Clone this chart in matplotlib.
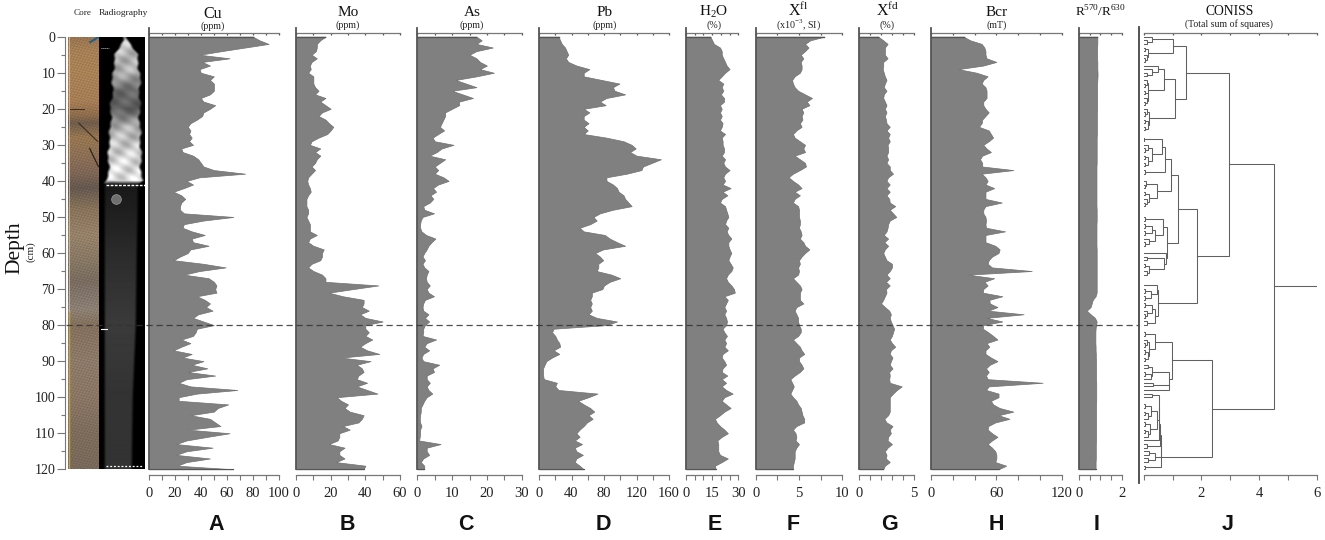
import matplotlib
matplotlib.use('Agg')
import matplotlib.pyplot as plt
from matplotlib.lines import Line2D
import numpy as np

W, H = 1325, 540
plt.rcParams['font.family'] = ['Liberation Serif', 'DejaVu Serif']

depth = np.arange(0, 121)

cu = [80,85,92,74,56,39,62,41,47,39,40,50,47,50,50,50,47,40,42,51,47,42,41,37,32,30,32,31,33,31,34,25,26,34,38,40,
      42,50,74,39,29,34,27,19,25,28,25,24,24,27,65,42,27,26,33,43,33,34,46,32,30,24,19,42,59,39,27,46,50,52,51,52,
      37,43,47,44,49,38,34,42,50,37,36,34,25,32,25,19,33,26,42,33,45,30,51,29,23,32,68,37,23,23,61,53,50,32,47,51,
      55,30,62,45,29,21,49,29,21,47,29,22,65]
mo = [17,14,12,12,11.5,9,12,9,8,8.5,7,10,10,10,11,13,11,17,14,17,20,15,13,17,19,21.5,20,18,13,9,8,14,11,14,12,11,
      9,11,9,7,6.5,7,8,8.5,7,6,6,6,7,7,6,7,8,8,8,12,8,7,10,16,15,15,14,9,7,10,15,17,17,47.5,33,19,27,39,39,38,42,
      37,40,50,40,40,42,40,44,40,37,41,48,26,43,35,38,39,36,35,41,35,41,47,23.5,26,30,28,31,39,38,36,27,31,25,25,
      24,19,28,25,25,28,23,40,39]
as_ = [17,18.5,17,21.7,17,15,17,18,20,18,22,17,11,14,17,10,13,16,12,12,10,8,8,7.5,7,6.5,7.7,6,4.4,5,10.4,7,5.6,3.5,
       8,6.5,5,6,5,7.5,9,6,4.5,5.4,3.8,4.6,3.6,1.7,2,4.8,1.5,1,0.8,0.8,1.2,2.5,5.2,4.1,3.2,2.7,2,1.5,2.2,1.5,2,3.2,
       2.7,2.5,2.7,3.6,2.7,3.2,4.8,2.2,1.7,1.5,1.7,3.2,2.2,3.4,2.2,1.7,1.7,1.5,5.4,2.7,2,3.4,1.7,1.2,1.7,6.3,4.4,
       4.8,2.7,2.7,3.6,2.7,3.2,4.3,2.7,2,1.5,1,1,0.8,0.7,0.8,1.2,0.8,0.8,0.7,0.5,6.7,2.7,2.7,3.4,1.7,1,2,2]
pb = [24,26,28,32,34,36,33,36,46,62,55,55,77,99,91,93,106,83,75,82,55,62,55,55,61,55,60,55,83,104,114,119,112,120,
      150,139,128,126,108,83,83,91,96,98,104,106,110,114,91,75,67,71,63,50,55,81,87,96,106,79,69,75,79,73,73,71,89,
      100,87,80,78,65,65,63,65,63,65,61,71,96,83,18,16,20,22,25,26,18,25,16,9,7,5,5,5,6,22,20,24,72,61,48,55,63,68,
      61,66,59,55,50,46,50,44,53,44,46,54,46,44,50,55]
h2o = [14,15,16,19.5,20.5,20.5,21.4,22.4,23.3,25,22.4,20.5,18.5,21.4,20.5,21.4,20,21.8,21.8,19.5,20.5,19.5,20.5,19.5,
       21,20.5,19.5,22.4,20.5,21,21,21.8,21.8,20.5,22.4,21.4,22.4,25,22.4,21.4,22.4,21,25.6,21,23.7,20.5,19.5,22.4,
       23,23.7,24.3,23,22.4,24.3,23.3,24.3,26,24.3,24.3,25,26,25,24.3,25.6,26.8,26,24,23,24,26,27.5,28,22,24,23,22,
       23,22,23,23.5,23,21,22,23.5,22,23,22,24,21,20.5,22,23,21,20.5,23.7,20.5,23,20.5,23,26.8,22,20.5,23,25.6,22,
       19.5,16.6,17.6,19.5,22,24,20.5,18,18.5,18.5,18.5,19.5,24,20.5,16.6,17]
xfl = [7.9,6.3,5.7,6.1,5.7,5.2,5.5,5.2,5.3,5.3,5.1,4.5,4.2,4.3,4.5,4.9,5.7,6.5,5.9,6.2,5.3,5.5,5.3,5.4,5.1,5.3,4.7,
       4.3,4.5,5.1,5.7,5.5,5.7,4.5,5.1,5.7,5.8,5.1,4.3,3.8,4.3,4.9,5.3,4.5,5.1,4.5,4.3,4.9,5,5,5,5.1,5.1,5,5.2,5.3,
       5.1,5.5,5.7,6.2,5.7,5.3,5,5.1,4.9,5,4.9,4.3,4.7,5.1,5.3,5.1,5.1,5.1,5.5,4.7,4.5,4.7,4.9,4.9,5,5.2,5.2,4.9,4.3,
       4.7,5.1,5.3,5.6,5,5,5.3,5.5,5.1,4.5,4,4.2,4.4,4.2,4,4.3,4.7,4.9,5.2,5.3,5.4,5.6,5.6,4.7,4.3,4.6,4.7,4.6,5,4.7,
       4.5,4.5,4.5,4.4,4.3,4.3]
xfd = [1.75,2.2,2.6,2.35,2.35,2.35,2.6,2.2,2.2,2.15,2.25,2.35,2.5,2.35,2.25,2.5,2.25,2.2,2.35,2.5,2.35,2.5,2.35,2.45,
       2.5,2.8,2.5,2.8,2.65,2.8,2.6,2.65,2.65,2.5,2.65,2.5,2.8,2.8,3.1,2.65,2.5,2.8,2.5,2.8,2.5,2.75,2.8,3.3,2.8,3.1,
       3.4,2.8,2.65,2.6,2.5,2.25,2.65,2.3,2.65,2.35,2.2,2.35,2.5,3,3,2.8,2.5,2.8,2.45,2.8,2.45,2.5,2.35,2.2,2,2.35,
       2.75,2.9,2.8,2.9,3.05,3.2,3.1,3,2.8,3,3.3,2.9,2.8,3.05,2.9,2.8,3.05,2.75,2.8,2.75,2.8,3.9,3.45,3.1,2.8,2.8,
       2.8,2.8,2.8,2.65,2.3,2.5,3.05,2.8,2.9,2.65,2.6,3,2.6,2.35,2.5,2.45,2.8,2.35,2.2]
bcr = [30,36,46.5,49,50,50,51,60,48,25,42,52,48,46.5,50,51,51,51,48,48,50,53,50,47,46.5,44,53,55,57,53,48,51,55,47,45,
       47,47,75.6,46.5,50,52,50,58,50,50,50,65,50,48,48,50,50.5,50,50.5,68,50,50,50,59,63,62,56,53,52,56,92.5,34,58,
       49,52,48,47.5,65.5,53.5,54,61,52.6,85,51,65.5,48,47.5,52.6,57,61,51,53.5,50,50,55,61,54,50.5,53,50.5,52,102.5,
       53,50.5,62,62,55,57,63,75.6,62,72,59,52.6,52,56,61,56,52,56,59,60,60,59,69,62]
ratio = [0.86,0.86,0.86,0.85,0.85,0.85,0.85,0.86,0.86,0.86,0.87,0.87,0.86,0.85,0.85,0.85,0.85,0.85,0.85,0.85,0.85,0.84,
         0.84,0.84,0.84,0.84,0.84,0.84,0.83,0.83,0.83,0.83,0.83,0.83,0.83,0.83,0.82,0.82,0.82,0.82,0.82,0.82,0.82,0.82,
         0.82,0.82,0.82,0.82,0.83,0.83,0.83,0.83,0.82,0.82,0.82,0.82,0.82,0.82,0.82,0.83,0.83,0.83,0.83,0.83,0.83,0.83,
         0.83,0.83,0.83,0.83,0.83,0.83,0.78,0.65,0.6,0.55,0.37,0.55,0.75,0.83,0.8,0.78,0.77,0.77,0.77,0.77,0.78,0.78,
         0.79,0.79,0.8,0.8,0.8,0.8,0.8,0.8,0.81,0.81,0.81,0.81,0.81,0.81,0.8,0.8,0.8,0.8,0.8,0.8,0.8,0.8,0.8,0.8,0.8,
         0.79,0.79,0.79,0.79,0.79,0.78,0.78,0.78]

series = [cu, mo, as_, pb, h2o, xfl, xfd, bcr, ratio]
xmax = [100, 60, 30, 160, 30, 10, 5, 120, 2]
major = [20, 20, 10, 40, 15, 5, 5, 60, 2]
minor = [10, 10, 5, 20, 5, 2.5, 1, 20, 0.5]
x0_px = [148.7, 296, 417.3, 539, 686, 755.7, 859.3, 931, 1078.7]
x1_px = [279, 400, 521.7, 669, 738.3, 842.3, 913.7, 1061.7, 1122]
titles = ['Cu', 'Mo', 'As', 'Pb', r'H$_{\mathregular{2}}$O', r'X$^{\mathregular{fl}}$', r'X$^{\mathregular{fd}}$',
          'Bcr', r'R$^{\mathregular{570}}$/R$^{\mathregular{630}}$']
units = ['(ppm)', '(ppm)', '(ppm)', '(ppm)', '(%)', r'(x10$^{\mathregular{-3}}$, SI)', '(%)', '(mT)', '']
title_x = [213, 348, 472, 605, 714, 798, 887, 997, 1100]
title_base = [18, 15.5, 15.5, 15.5, 15.5, 15.5, 15.5, 15.5, 16.5]
unit_y = [26.5, 25, 25, 25, 25, 25, 25, 25, 25]
title_size = [11.5, 11, 11, 11, 11, 11.5, 11.5, 11, 9.5]
letters = ['A', 'B', 'C', 'D', 'E', 'F', 'G', 'H', 'I', 'J']
letter_x = [216, 347, 466, 603, 715, 793, 890, 996, 1097, 1228]

# CONISS tree, (height, upper child, lower child), leaves are depths
upper1 = (1.46,
          (1.03, (.28, 0, (.1, 1, 2)), (.16, (.05, 3, 4), (.1, 5, (.05, 6, 7)))),
          (1.08,
           (.71, (.51, 8, (.3, 9, (.1, 10, 11))),
            (.16, (.1, 12, (.05, 13, 14)), (.14, (.05, 15, 16), (.1, 17, (.03, 18, 19))))),
           (.2, (.1, 20, (.05, 21, 22)), (.14, (.05, 23, 24), (.05, 25, 26)))))
upper2a = (.93,
           (.74, (.62, (.02, 28, 29),
                  (.28, (.16, 30, (.05, 31, 32)), (.14, (.05, 33, 34), (.05, 35, 36)))),
            (.03, 37, 38)),
           (.47, (.08, 40, (.03, 41, 42)), (.18, (.05, 43, 44), (.1, 45, (.06, 46, 47)))))
upper2b = (.8,
           (.68, (.05, 50, 51),
            (.4, (.3, (.05, 52, 53), (.05, 54, 55)), (.2, 56, (.05, 57, 58)))),
           (.78, 60, (.7, (.1, 61, 62), (.2, (.05, 63, 64), (.1, 65, 66)))))
upper3 = (.49,
          (.45, 69, (.25, (.05, 70, 71), (.05, 72, 73))),
          (.38, (.3, (.05, 74, 75), (.1, 76, (.03, 77, 78))), (.1, 79, 80)))
lower1 = (.97,
          (.4, (.05, 82, 83),
           (.2, (.1, 84, (.05, 85, 86)), (.15, (.05, 87, 88), (.05, 89, 90)))),
          (.89, (.28, (.15, 91, 92), (.25, (.05, 93, 94), 95)), (.87, (.33, 96, 97), 98)))
chain = (.52, (.3, 99, 100),
         (.45, (.25, (.05, 102, 103), (.15, (.05, 104, 105), 106)),
          (.22, (.05, 107, 108), (.15, (.05, 109, 110), 111))))
lower2 = (.61,
          (.59, (.57, (.54, chain, 112), (.1, 113, 114)), (.38, (.18, 115, 116), (.15, 117, 118))),
          (.03, 119, 120))
coniss = (4.51,
          (2.95, upper1, (1.85, (1.2, upper2a, upper2b), upper3)),
          (2.37, lower1, lower2))
root_stem = 6

# core photo and x-ray, only rough shades read by depth
core_depth = [0, 4, 10, 18, 22, 24, 28, 33, 38, 42, 48, 55, 62, 68, 72, 76, 80, 90, 100, 110, 120]
core_r = [150, 165, 168, 165, 140, 110, 150, 140, 125, 100, 135, 150, 135, 120, 130, 140, 130, 140, 138, 125, 120]
core_g = [115, 128, 130, 125, 108, 92, 118, 112, 102, 88, 115, 130, 120, 108, 118, 128, 112, 122, 118, 108, 105]
core_b = [80, 85, 85, 85, 75, 75, 80, 85, 85, 78, 90, 105, 100, 95, 108, 115, 92, 105, 100, 92, 90]
xray_depth = [0, 1, 5, 10, 15, 20, 25, 30, 35, 40, 41, 45, 60, 80, 100, 120]
xray_left = [22, 22, 15, 12, 12, 10, 10, 8, 8, 7, 4, 4, 4, 4, 4, 4]
xray_right = [28, 31, 39, 42, 42, 42, 42, 43, 43, 44, 40, 40, 39, 38, 35, 34]
xray_level = [.6, .78, .72, .68, .42, .36, .68, .78, .85, .88, .1, .11, .17, .23, .2, .2]


def px_axes(x0, x1, y0, y1):
    return fig.add_axes([x0 / W, 1 - y1 / H, (x1 - x0) / W, (y1 - y0) / H])


def label_px(x, y, s, **kw):
    kw.setdefault('va', 'center')
    fig.text(x / W, 1 - y / H, s, ha='center', **kw)


def line_px(xs, ys, **kw):
    fig.add_artist(Line2D([x / W for x in xs], [1 - y / H for y in ys], **kw))


def draw_node(ax, node):
    # returns height and depth of the node so the parent can join it
    if not isinstance(node, tuple):
        return 0, node
    h, a, b = node
    ha, da = draw_node(ax, a)
    hb, db = draw_node(ax, b)
    ax.plot([ha, h, h, hb], [da, da, db, db], color='#606060', lw=0.75, solid_joinstyle='miter')
    return h, (da + db) / 2


def style_axis(ax, xm, maj, mnr):
    ax.set_xlim(0, xm)
    ax.set_ylim(D_BOT, D_TOP)
    ax.patch.set_alpha(0)
    for s in ['left', 'right', 'top']:
        ax.spines[s].set_visible(False)
    ax.spines['bottom'].set_color('#777777')
    ax.spines['bottom'].set_linewidth(0.9)
    ax.set_yticks([])
    ax.set_xticks(np.arange(0, xm + 1e-6, maj))
    ax.set_xticks(np.arange(0, xm + 1e-6, mnr), minor=True)
    ax.tick_params(axis='x', which='both', direction='out', color='#777777', length=3.6, width=0.8,
                   labelsize=10.5, pad=5, labelcolor='#222222')
    # top scale has only very short inward ticks
    sec = ax.secondary_xaxis('top')
    sec.set_xticks(np.arange(0, xm + 1e-6, mnr))
    sec.tick_params(axis='x', direction='in', color='#555555', length=1.6, width=0.9, labeltop=False)
    sec.spines['top'].set_color('#777777')
    sec.spines['top'].set_linewidth(0.9)


fig = plt.figure(figsize=(W / 100, H / 100), dpi=100)

Y0, Y120 = 36.7, 469.3
Y_TOP, Y_BOT = 33.3, 474.7
px_cm = (Y120 - Y0) / 120
D_TOP = -(Y0 - Y_TOP) / px_cm
D_BOT = 120 + (Y_BOT - Y120) / px_cm

# core photo
ax_core = px_axes(68, 99, Y0, Y120)
rows = np.arange(0, 120.25, 0.25)
cols = np.linspace(0, 1, 62)
photo = np.stack([np.interp(rows, core_depth, c) for c in (core_r, core_g, core_b)], axis=1) / 255
# slanted layering, just to give the photo some grain
grain = (0.14 * np.sin(rows[:, None] * 6.1 + cols[None, :] * 23) * np.sin(rows[:, None] * 2.3 - cols[None, :] * 41)
         + 0.07 * np.sin(rows[:, None] * 13.7 + cols[None, :] * 67))
photo = np.clip(photo[:, None, :] * (1 + grain[:, :, None]), 0, 1)
ax_core.imshow(photo, aspect='auto', extent=[0, 1, 120, 0], interpolation='bilinear')
ax_core.plot([0.35, 0.95], [24, 29], color='#3a2c22', lw=0.8)
ax_core.plot([0.7, 0.98], [31, 36], color='#2e241c', lw=0.9)
ax_core.plot([0.05, 0.5], [20, 20], color='#3a2c22', lw=0.7)
ax_core.plot([0.72, 1], [1.5, 0], color='#1f5f8a', lw=1.5)
ax_core.plot([0.99, 0.99], [0, 12], color='#5fa0c0', lw=0.8)
ax_core.plot([0.02, 0.02], [76, 120], color='#c9a820', lw=1)
ax_core.plot([0.02, 0.02], [0, 76], color='#b8c4c8', lw=0.6)
ax_core.set_xlim(0, 1)
ax_core.set_ylim(120, 0)
ax_core.set_xticks([])
ax_core.set_yticks(np.arange(0, 121, 10), [str(v) for v in np.arange(0, 121, 10)], fontsize=10.5)
ax_core.set_yticks(np.arange(0, 121, 5), minor=True)
ax_core.tick_params(axis='y', which='major', length=5.8, width=0.8, color='#777777', pad=1.2, labelcolor='#222222')
ax_core.tick_params(axis='y', which='minor', length=2.6, width=0.8, color='#777777')
for s in ['top', 'right', 'bottom']:
    ax_core.spines[s].set_visible(False)
ax_core.spines['left'].set_position(('outward', 2.2))
ax_core.spines['left'].set_color('#777777')
ax_core.spines['left'].set_linewidth(0.8)

# x-ray column
ax_xray = px_axes(99.5, 145, Y0, Y120)
xcols = np.arange(0, 46, 0.5)
upper_part = rows < 41
wobble = (0.9 * np.sin(rows * 0.9) + 0.5 * np.sin(rows * 2.3)) * upper_part
left = np.interp(rows, xray_depth, xray_left) + wobble
right = np.interp(rows, xray_depth, xray_right) - wobble
level = np.interp(rows, xray_depth, xray_level)
soft = np.clip((xcols[None, :] - left[:, None]) / 3, 0, 1) * np.clip((right[:, None] - xcols[None, :]) / 3, 0, 1)
# slow cloudy variation in the bright upper part only
mott = 1 + upper_part[:, None] * (0.1 * np.sin(rows[:, None] * 0.8 + xcols[None, :] * 0.22)
                                  + 0.07 * np.sin(rows[:, None] * 1.9 - xcols[None, :] * 0.31))
ax_xray.imshow(soft * level[:, None] * mott, cmap='gray', vmin=0, vmax=1, aspect='auto',
               extent=[0, 46, 120, 0], interpolation='bilinear')
ax_xray.plot([7, 46], [41, 41], color='white', lw=1, ls=(0, (2, 1)))
ax_xray.plot([2, 10], [3.2, 3.2], color='#cfcfcf', lw=0.7, ls=(0, (1, 1)))
ax_xray.plot([2, 8], [81, 81], color='white', lw=0.8)
ax_xray.plot([7, 44], [119, 119], color='white', lw=0.9, ls=(0, (1.5, 1.5)))
ax_xray.plot([5, 45], [33.5, 33.5], color='#333333', lw=0.7, alpha=0)
ax_xray.plot([17], [45], 'o', ms=7, mfc='#6f6f6f', mec='#999999', mew=0.5)
ax_xray.set_xlim(0, 46)
ax_xray.set_ylim(120, 0)
ax_xray.axis('off')

# proxy panels
for i, vals in enumerate(series):
    ax = px_axes(x0_px[i], x1_px[i], Y_TOP, Y_BOT)
    style_axis(ax, xmax[i], major[i], minor[i])
    ax.fill_betweenx(depth, 0, vals, facecolor='#808080', edgecolor='#707070', lw=0.5)
    ax.plot([0, vals[0]], [0, 0], color='#555555', lw=1)
    ax.plot([0, vals[-1]], [120, 120], color='#555555', lw=0.8)
    ax.plot([0, 0], [D_TOP - 1.4, 120], color='#555555', lw=1.3, clip_on=False)
    label_px(title_x[i], title_base[i], titles[i], fontsize=title_size[i], color='#111111', va='baseline')
    if units[i]:
        label_px(title_x[i], unit_y[i], units[i], fontsize=7.2, color='#222222')

# dendrogram
ax_j = px_axes(1143.7, 1317, Y_TOP, Y_BOT)
style_axis(ax_j, 6, 2, 1)
ax_j.set_xticks([0, 2, 4, 6], ['', '2', '4', '6'])
h_root, d_root = draw_node(ax_j, coniss)
ax_j.plot([h_root, root_stem], [d_root, d_root], color='#606060', lw=0.75)
line_px([1139.3, 1139.3], [27, 483], color='#444444', lw=1.3)
label_px(1230, 11.5, 'CONISS', fontsize=9.8, color='#111111')
label_px(1229, 24, '(Total sum of squares)', fontsize=7, color='#222222')

# shared marks
y80 = Y0 + 80 * px_cm
line_px([66, 1138], [y80, y80], color='#333333', lw=0.9, ls=(0, (5, 3)), alpha=0.85)
label_px(83, 13, 'Core', fontsize=6.6, color='#222222')
label_px(123, 13, 'Radiography', fontsize=6.8, color='#222222')
fig.text(15 / W, 1 - 248 / H, 'Depth', rotation=90, ha='center', va='center', fontsize=15.5, color='#111111')
fig.text(31 / W, 1 - 252 / H, '(cm)', rotation=90, ha='center', va='center', fontsize=8, color='#222222')
for x, s in zip(letter_x, letters):
    label_px(x, 525, s, fontsize=15.5, fontweight='bold', family='Liberation Sans', color='#111111')

fig.savefig('out.png', dpi=100, facecolor='white')
